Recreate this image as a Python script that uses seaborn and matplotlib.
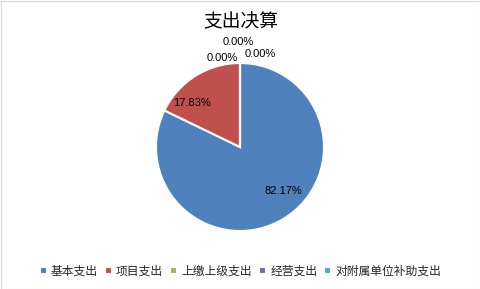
import matplotlib
matplotlib.use("Agg")
import matplotlib.pyplot as plt
import seaborn as sns
from matplotlib.patches import Rectangle

categories = ["基本支出", "项目支出", "上缴上级支出", "经营支出", "对附属单位补助支出"]
values = [82.17, 17.83, 0.0, 0.0, 0.0]
pct_labels = ["82.17%", "17.83%", "0.00%", "0.00%", "0.00%"]
colors = ["#4F81BD", "#C0504D", "#9BBB59", "#8064A2", "#4BACC6"]

sns.set_theme(style="white")
sns.set_palette(colors)
plt.rcParams['font.family'] = ['Noto Sans CJK SC', 'DejaVu Sans']

W, H = 481, 289
fig = plt.figure(figsize=(W / 100, H / 100), dpi=100)
fig.patch.set_facecolor("white")
fig.add_artist(Rectangle((0.5 / W, 0.5 / H), 1 - 1.5 / W, 1 - 1.5 / H, transform=fig.transFigure,
                         fill=False, edgecolor="#D9D9D9", linewidth=0.8))

cx, cy, r = 240, 289 - 147, 84
ax = fig.add_axes([(cx - r) / W, (cy - r) / H, 2 * r / W, 2 * r / H])
wedges, _ = ax.pie(values, colors=sns.color_palette(colors), startangle=90, counterclock=False,
                   radius=1, wedgeprops=dict(edgecolor="white", linewidth=1.5))
ax.set_xlim(-1, 1)
ax.set_ylim(-1, 1)
ax.set_aspect("auto")
ax.axis("off")

label_pos = [(0.52, -0.52), (-0.57, 0.52), (-0.21, 1.06), (-0.02, 1.25), (0.24, 1.11)]
for (x, y), t in zip(label_pos, pct_labels):
    ax.text(x, y, t, ha="center", va="center", fontsize=8.0, color="#000000",
            family=["Liberation Sans", "DejaVu Sans"])

fig.text(0.5, 1 - 22 / H, "支出决算", ha="center", va="center", fontsize=13.5, color="#000000",
         fontweight="light")

fig.legend(wedges, categories, loc="center", bbox_to_anchor=(0.5, 1 - 271 / H), ncol=5,
           frameon=False, fontsize=8.5, handlelength=0.6, handleheight=0.6, handletextpad=0.35,
           columnspacing=0.6, borderaxespad=0)

fig.savefig("out.png", dpi=100)
